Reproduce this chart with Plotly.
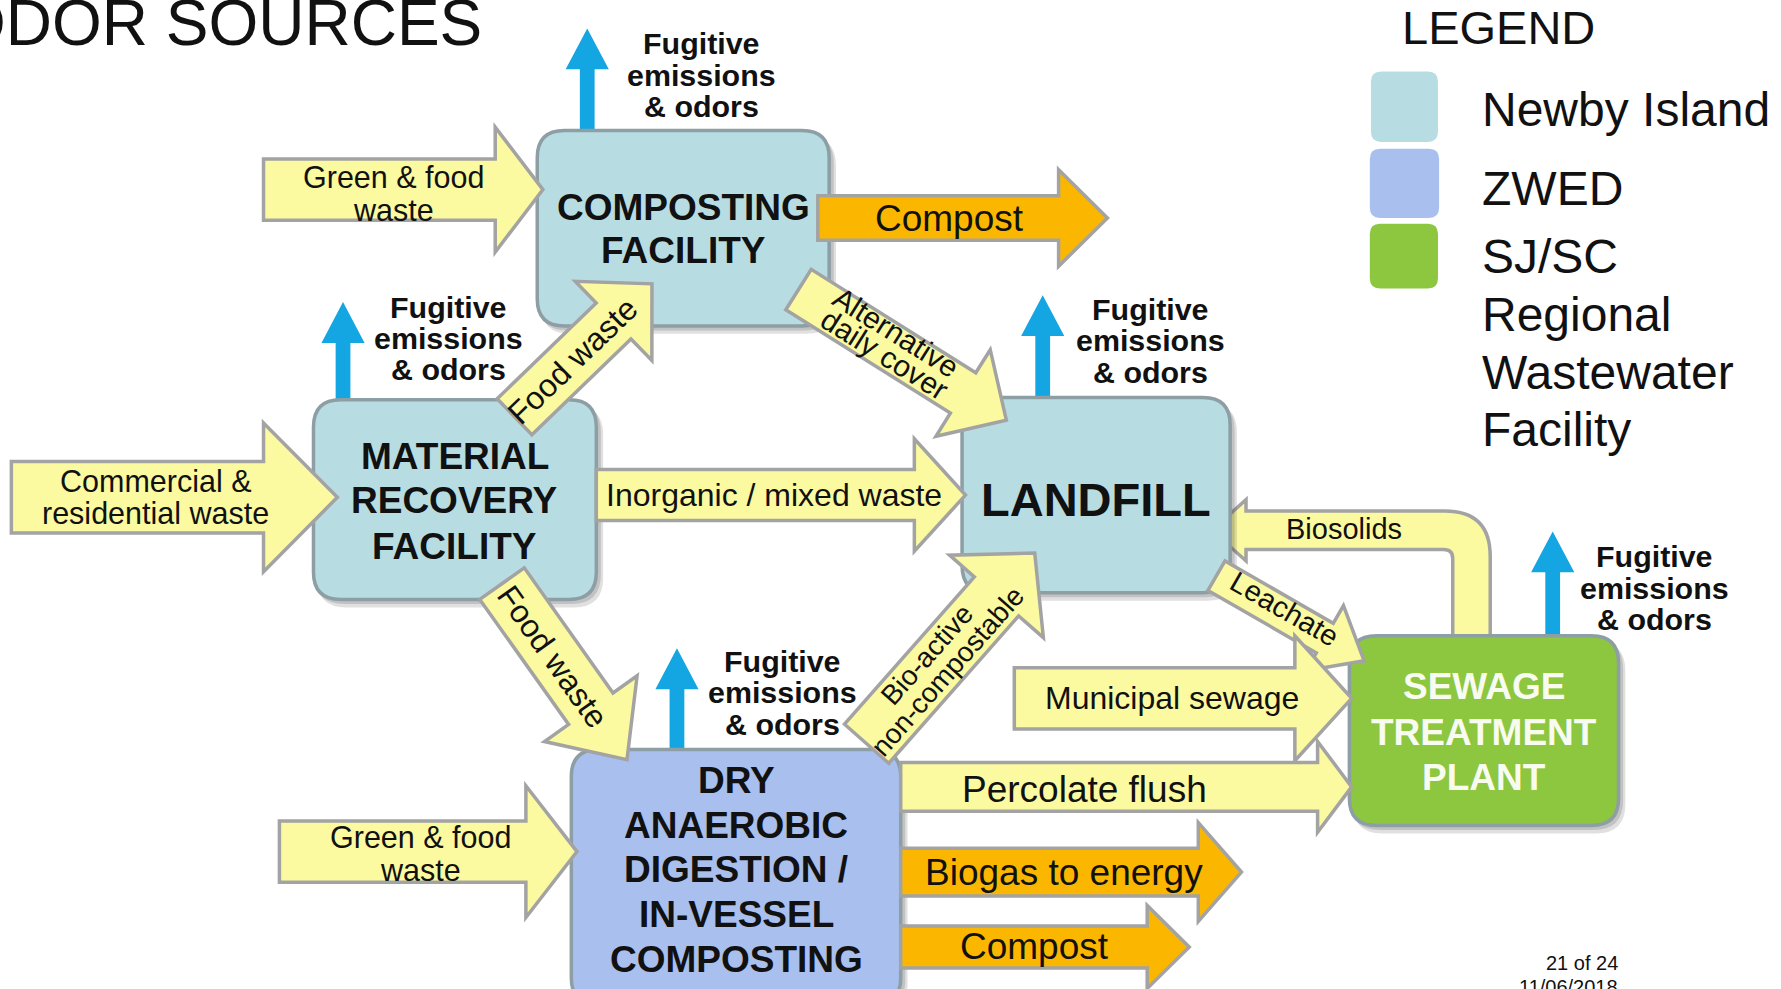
import math
import plotly.graph_objects as go

# ---------------- data ----------------
node_names = ["composting", "mrf", "landfill", "dad", "stp"]
node_lines = [
    ["COMPOSTING", "FACILITY"],
    ["MATERIAL", "RECOVERY", "FACILITY"],
    ["LANDFILL"],
    ["DRY", "ANAEROBIC", "DIGESTION /", "IN-VESSEL", "COMPOSTING"],
    ["SEWAGE", "TREATMENT", "PLANT"],
]
node_owner = ["Newby Island", "Newby Island", "Newby Island", "ZWED", "SJ/SC"]

legend_names = ["Newby Island", "ZWED", "SJ/SC"]
legend_lines = [["Newby Island"], ["ZWED"], ["SJ/SC", "Regional", "Wastewater", "Facility"]]
legend_colors = ["#b7dde3", "#a9bfee", "#8dc63f"]

flow_labels = [
    ["Green & food", "waste"],
    ["Commercial &", "residential waste"],
    ["Inorganic / mixed waste"],
    ["Food waste"],
    ["Food waste"],
    ["Alternative", "daily cover"],
    ["Bio-active", "non-compostable"],
    ["Leachate"],
    ["Municipal sewage"],
    ["Percolate flush"],
    ["Green & food", "waste"],
]
product_labels = ["Compost", "Biogas to energy", "Compost"]
emission_label = ["Fugitive", "emissions", "& odors"]
title_text = "ODOR SOURCES"
footer_lines = ["21 of 24", "11/06/2018"]

# ---------------- layout (reference pixel space 1568 x 871) ----------------
W, H = 1568, 871
node_box = [(473, 115, 730, 287), (276, 352, 525, 528), (847, 350, 1083, 522),
            (503, 660, 793, 885), (1188, 560, 1425, 727)]
node_text_y = [[183, 221], [402, 441, 481], [440], [687, 727, 766, 805, 845], [605, 645, 685]]
node_font = [37, 37, 47, 37, 37]
node_font_color = ["#111", "#111", "#111", "#111", "#f8fbf0"]

# tail(x,y), tip(x,y), body width, head width, head length
flow_geom = [
    ((232, 167), (478, 167), 54, 110, 42),
    ((10, 438), (297, 438), 63, 131, 65),
    ((525, 436), (850, 436), 45, 99, 45),
    ((453, 367), (574, 250), 44, 97, 47),
    ((442, 514), (552, 669), 48, 100, 55),
    ((703, 255), (886, 370), 42, 90, 45),
    ((763, 655), (911, 487), 52, 110, 51),
    ((1071, 507), (1201, 582), 30, 66, 40),
    ((893, 615), (1190, 615), 54, 110, 50),
    ((793, 693), (1190, 693), 43, 80, 30),
    ((246, 750), (508, 750), 54, 116, 45),
]
flow_text_pos = [
    [(346, 156), (346, 185)],
    [(137, 424), (137, 452)],
    [(681, 436)],
    [(504, 318)],
    [(486, 578)],
    [(789, 293), (779, 312)],
    [(816, 576), (834, 591)],
    [(1131, 536)],
    [(1032, 615)],
    [(955, 695)],
    [(370, 737), (370, 766)],
]
flow_font = [30.5, 30.5, 32, 32, 32, 30, 28, 29, 32, 37, 30.5]

product_geom = [((720, 192), (975, 192), 39, 85, 43),
                ((793, 768), (1093, 768), 42, 87, 38),
                ((793, 834), (1047, 834), 37, 73, 37)]
product_text_pos = [(836, 192), (937, 768), (911, 834)]

emission_geom = [((517, 115), (517, 25)), ((302, 352), (302, 266)), ((918, 350), (918, 260)),
                 ((596, 660), (596, 571)), ((1367, 560), (1367, 468))]
emission_text = [(618, 38), (395, 270), (1013, 272), (689, 582), (1457, 490)]

YELLOW = "#fbfaa0"
ORANGE = "#fbb700"
BLUE = "#14a6e2"
EDGE = "#a3a3a3"
NODE_EDGE = "#8d9ea4"
FONT = "Liberation Sans, Arial, sans-serif"

shapes = []
annotations = []


def rrect(x0, y0, x1, y1, r):
    return (f"M{x0+r},{y0} L{x1-r},{y0} Q{x1},{y0} {x1},{y0+r} L{x1},{y1-r} "
            f"Q{x1},{y1} {x1-r},{y1} L{x0+r},{y1} Q{x0},{y1} {x0},{y1-r} "
            f"L{x0},{y0+r} Q{x0},{y0} {x0+r},{y0} Z")


def arrow_path(tail, tip, bw, hw, hl):
    x0, y0 = tail
    x1, y1 = tip
    dx, dy = x1 - x0, y1 - y0
    L = math.hypot(dx, dy)
    ux, uy = dx / L, dy / L
    px, py = -uy, ux
    bx, by = x1 - ux * hl, y1 - uy * hl
    pts = [(x0 + px * bw / 2, y0 + py * bw / 2), (bx + px * bw / 2, by + py * bw / 2),
           (bx + px * hw / 2, by + py * hw / 2), (x1, y1),
           (bx - px * hw / 2, by - py * hw / 2), (bx - px * bw / 2, by - py * bw / 2),
           (x0 - px * bw / 2, y0 - py * bw / 2)]
    return "M" + " L".join(f"{x:.1f},{y:.1f}" for x, y in pts) + " Z"


def add_path(path, fill, line_color=None, lw=0, opacity=1.0):
    shapes.append(dict(type="path", path=path, xref="x", yref="y", fillcolor=fill,
                       line=dict(color=line_color or fill, width=lw), opacity=opacity,
                       layer="above"))


def add_text(x, y, text, size, color="#111", angle=0, bold=False, xanchor="center"):
    annotations.append(dict(x=x, y=y, xref="x", yref="y", text=f"<b>{text}</b>" if bold else text,
                            showarrow=False, textangle=angle, xanchor=xanchor, yanchor="middle",
                            font=dict(family=FONT, size=size, color=color)))


def angle_of(tail, tip):
    return math.degrees(math.atan2(tip[1] - tail[1], tip[0] - tail[0]))


# emission arrows (behind nodes)
for (tail, tip), (tx, ty) in zip(emission_geom, emission_text):
    add_path(arrow_path(tail, tip, 13, 38, 36), BLUE)
    for i, line in enumerate(emission_label):
        add_text(tx, ty + i * 27.7, line, 30.4, bold=True)

# biosolids (behind STP)
yc, hb, xc, hv, R, r = 467, 17, 1295.5, 16.5, 40, 8
bios = (f"M1067,{yc} L1097,{yc-27} L1097,{yc-hb} L{xc+hv-R},{yc-hb} Q{xc+hv},{yc-hb} {xc+hv},{yc-hb+R} "
        f"L{xc+hv},560 L{xc-hv},560 L{xc-hv},{yc+hb+r} Q{xc-hv},{yc+hb} {xc-hv-r},{yc+hb} "
        f"L1097,{yc+hb} L1097,{yc+27} Z")
add_path(bios, YELLOW, EDGE, 3.5)
add_text(1183, 466, "Biosolids", 29)

# nodes
for idx, name in enumerate(node_names):
    x0, y0, x1, y1 = node_box[idx]
    color = legend_colors[legend_names.index(node_owner[idx])]
    add_path(rrect(x0 + 3, y0 + 5, x1 + 6, y1 + 7, 26), "rgba(60,60,60,1)", opacity=0.16)
    add_path(rrect(x0 + 1, y0 + 3, x1 + 4, y1 + 4, 26), "rgba(60,60,60,1)", opacity=0.18)
    add_path(rrect(x0, y0, x1, y1, 24), color, NODE_EDGE, 3.5)

# flows (on top of nodes)
for geom, lines, pos, fs in zip(flow_geom, flow_labels, flow_text_pos, flow_font):
    add_path(arrow_path(*geom), YELLOW, EDGE, 3.5)
    ang = angle_of(geom[0], geom[1])
    if abs(ang) < 1:
        ang = 0
    for line, (tx, ty) in zip(lines, pos):
        add_text(tx, ty, line, fs, angle=ang)

for geom, lab, (tx, ty) in zip(product_geom, product_labels, product_text_pos):
    add_path(arrow_path(*geom), ORANGE, EDGE, 3.5)
    add_text(tx, ty, lab, 37)

# node labels
for idx in range(len(node_names)):
    cx = (node_box[idx][0] + node_box[idx][2]) / 2
    for line, ty in zip(node_lines[idx], node_text_y[idx]):
        add_text(cx, ty, line, node_font[idx], color=node_font_color[idx], bold=True)

# legend
sw_boxes = [(1207, 63, 1266, 125), (1206, 131, 1267, 192), (1206, 197, 1266, 254)]
for (x0, y0, x1, y1), col in zip(sw_boxes, legend_colors):
    add_path(rrect(x0, y0, x1, y1, 9), col)
add_text(1233, 24, "LEGEND", 47, xanchor="left")
legend_y = [[96], [166], [226, 277, 328, 378]]
for lines, ys in zip(legend_lines, legend_y):
    for line, ty in zip(lines, ys):
        add_text(1303, ty, line, 48, xanchor="left")

# title & footer
add_text(426, 20, title_text, 64, xanchor="right")
add_text(1426, 848, footer_lines[0], 20, xanchor="right")
add_text(1426, 869, footer_lines[1], 20, xanchor="right")

fig = go.Figure()
fig.update_layout(
    width=1781, height=989, margin=dict(l=0, r=0, t=0, b=0),
    paper_bgcolor="white", plot_bgcolor="white",
    xaxis=dict(range=[0, W], visible=False, fixedrange=True),
    yaxis=dict(range=[H, 0], visible=False, fixedrange=True),
    shapes=shapes, annotations=annotations, showlegend=False,
)
fig.write_html("out.html", config={"displayModeBar": False},
               post_script="document.body.style.margin='0';document.body.style.overflow='hidden';")
